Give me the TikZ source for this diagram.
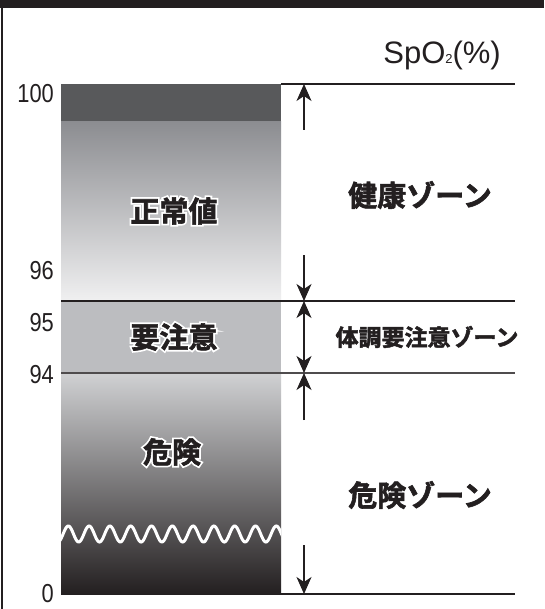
\documentclass[tikz,border=0pt]{standalone}
\usepackage{fontspec}
\setmainfont{Liberation Sans}
\newfontfamily\numfont[FakeStretch=0.84]{Liberation Sans}
\newfontfamily\cjk{Noto Sans CJK JP Bold}[FakeBold=2]
\newfontfamily\cjkhalo{Noto Sans CJK JP Bold}[FakeBold=14]
\usetikzlibrary{arrows.meta}
\definecolor{ink}{HTML}{231F20}
\definecolor{band}{HTML}{58595B}
\definecolor{gtop}{HTML}{8C8D91}
\definecolor{gbot}{HTML}{F0F0F1}
\definecolor{mid}{HTML}{BCBDC0}
\definecolor{ltop}{HTML}{D0D1D3}
\tikzset{
  tip/.tip={Stealth[length=17pt,width=15pt,inset=5pt]},
  hline/.style={draw=ink, line width=1.1pt},
  zarrow/.style={draw=ink, line width=1.4pt, -tip},
  numlbl/.style={anchor=east, inner sep=0pt, text=ink, font=\numfont\fontsize{26}{26}\selectfont},
  zonelbl/.style={inner sep=0pt, text=ink, font=\cjk\fontsize{29}{29}\selectfont},
  barlbl/.style={inner sep=0pt, text=ink, font=\cjk\fontsize{29}{29}\selectfont},
  halo/.style={inner sep=0pt, text=white, font=\cjkhalo\fontsize{29}{29}\selectfont},
}
\begin{document}
\begin{tikzpicture}[x=1pt,y=-1pt]
\useasboundingbox (0,0) rectangle (544,609);
\fill[white] (0,0) rectangle (544,609);
% frame
\fill[ink] (0,0) rectangle (544,8);
\fill[ink] (0.5,0) rectangle (3,609);
% bar
\fill[band] (61,84) rectangle (281,122);
\shade[top color=gtop, bottom color=gbot] (61,122) rectangle (281,301);
\fill[mid] (61,301) rectangle (281,373);
\shade[top color=ltop, bottom color=ink] (61,373) rectangle (281,594);
\begin{scope}
\clip (61,500) rectangle (281,560);
\draw[white, line width=3pt, line cap=round] plot[domain=58:284, samples=300, smooth] (\x, {534 - 8*sin((\x-63.1)/20.8*360)});
\end{scope}
% lines
\draw[hline] (281,84) -- (515,84);
\draw[hline] (61,301) -- (515,301);
\draw[hline, draw=ink!80] (61,373) -- (515,373);
\draw[hline] (281,594) -- (515,594);
% arrows
\coordinate (a1t) at (304,84);
\coordinate (a1b) at (304,130);
\coordinate (a2t) at (304,255);
\coordinate (a2b) at (304,301);
\coordinate (a3b) at (304,373);
\coordinate (a4b) at (304,420);
\coordinate (a5t) at (304,545);
\coordinate (a5b) at (304,594);
\draw[zarrow] (a1b) -- (a1t);
\draw[zarrow] (a2t) -- (a2b);
\draw[zarrow, tip-tip] (a2b) -- (a3b);
\draw[zarrow] (a4b) -- (a3b);
\draw[zarrow] (a5t) -- (a5b);
% numbers
\node[numlbl] (n100) at (54,94) {100};
\node[numlbl] (n96) at (54,271) {96};
\node[numlbl] (n95) at (54,323) {95};
\node[numlbl] (n94) at (54,375) {94};
\node[numlbl] (n0) at (54,594) {0};
% unit
\node[anchor=east, inner sep=0pt, text=ink, font=\fontsize{31}{31}\selectfont] (unit) at (501,55) {SpO{\fontsize{13}{13}\selectfont 2}(\%)};
% zone labels
\node[zonelbl] (z1) at (420,195) {健康ゾーン};
\node[zonelbl, font=\cjk\fontsize{23}{23}\selectfont] (z2) at (427,337) {体調要注意ゾーン};
\node[zonelbl] (z3) at (420,495) {危険ゾーン};
% bar labels (white halo under black text)
\node[halo] (h1) at (174,211) {正常値};
\node[barlbl] (b1) at (h1) {正常値};
\node[halo] (h2) at (174,337) {要注意};
\node[barlbl] (b2) at (h2) {要注意};
\node[halo] (h3) at (172,452) {危険};
\node[barlbl] (b3) at (h3) {危険};
\end{tikzpicture}
\end{document}
